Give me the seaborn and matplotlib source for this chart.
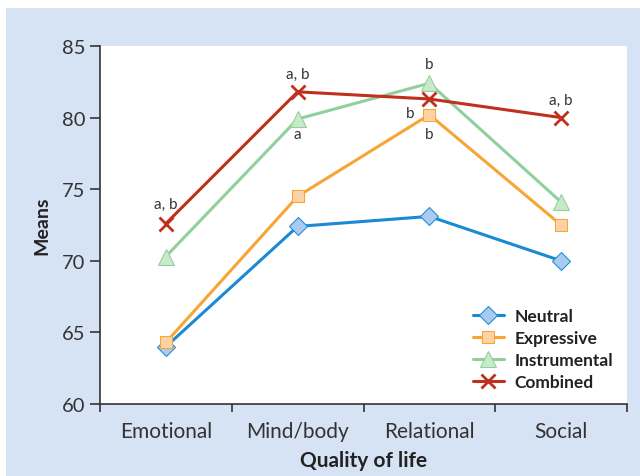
import pandas as pd
import matplotlib.pyplot as plt
import seaborn as sns
from matplotlib.patches import Rectangle
from matplotlib.ticker import FixedLocator

# Chart data
categories = ["Emotional", "Mind/body", "Relational", "Social"]
groups = ["Neutral", "Expressive", "Instrumental", "Combined"]
neutral = [64.0, 72.4, 73.1, 70.0]
expressive = [64.3, 74.5, 80.2, 72.5]
instrumental = [70.3, 79.9, 82.4, 74.1]
combined = [72.6, 81.8, 81.3, 80.0]

# significance letters: (category, value, text, dx, dy in points)
notes = [
    ("Emotional", 72.6, "a, b", 0, 14),
    ("Mind/body", 81.8, "a, b", 0, 13),
    ("Mind/body", 79.9, "a", 0, -11),
    ("Relational", 82.4, "b", 0, 14),
    ("Relational", 80.2, "b", -14, 1),
    ("Relational", 80.2, "b", 0, -14),
    ("Social", 80.0, "a, b", 0, 13),
]

df = pd.DataFrame({
    "Quality of life": categories * 4,
    "Means": neutral + expressive + instrumental + combined,
    "Group": [g for g in groups for _ in categories],
})

styles = {
    "Neutral": dict(color="#1a8ad4", marker="D", markerfacecolor="#a8cbef", ms=9),
    "Expressive": dict(color="#f7a535", marker="s", markerfacecolor="#fdd3a6", ms=9),
    "Instrumental": dict(color="#91d09c", marker="^", markerfacecolor="#c8e9ca", ms=11),
    "Combined": dict(color="#c0301f", marker="x", markerfacecolor="#c0301f", ms=10, mew=2),
}

sns.set_style("white")
plt.rcParams["font.family"] = ["Lato", "DejaVu Sans"]

fig = plt.figure(figsize=(6.4, 4.77), dpi=100, facecolor="white")
# light blue panel behind the chart
fig.patches.append(Rectangle((6 / 640, 0), 1, 1 - 9 / 477, transform=fig.transFigure,
                             facecolor="#d5e3f4", edgecolor="none", zorder=-10))
ax = fig.add_axes([100 / 640, 1 - 405 / 477, 527 / 640, 358 / 477])
ax.set_facecolor("white")

for g in groups:
    st = dict(styles[g])
    sns.lineplot(data=df[df["Group"] == g], x="Quality of life", y="Means", ax=ax,
                 color=st.pop("color"), marker=st.pop("marker"), lw=2.2,
                 markeredgecolor=styles[g]["color"], label=g, clip_on=False, **st)

for cat, val, txt, dx, dy in notes:
    ax.annotate(txt, (categories.index(cat), val), xytext=(dx, dy), textcoords="offset points",
                ha="center", va="center", fontsize=11, color="#333333")

ax.set_xlim(-0.5, 3.5)
ax.set_ylim(60, 85)
ax.set_yticks([60, 65, 70, 75, 80, 85])
ax.xaxis.set_minor_locator(FixedLocator([-0.5, 0.5, 1.5, 2.5, 3.5]))
ax.tick_params(axis="x", which="major", length=0, pad=12, labelsize=15, colors="#333333")
ax.tick_params(axis="x", which="minor", length=6, width=1.2, direction="out", bottom=True, color="#333333")
ax.tick_params(axis="y", length=7, width=1.2, direction="out", left=True, labelsize=14.5, colors="#333333")
for side in ["top", "right"]:
    ax.spines[side].set_visible(False)
for side in ["left", "bottom"]:
    ax.spines[side].set_color("#333333")
    ax.spines[side].set_linewidth(1.2)

ax.set_xlabel("Quality of life", fontsize=15, fontweight="bold", color="#222222", labelpad=7)
ax.set_ylabel("Means", fontsize=14, fontweight="bold", color="#222222", labelpad=8)

leg = ax.legend(loc="lower right", frameon=False, prop={"weight": "bold", "size": 12.5},
                handlelength=1.8, labelspacing=0.35, borderaxespad=0.4, handletextpad=0.6)
for t in leg.get_texts():
    t.set_color("#222222")

fig.savefig("out.png", dpi=100, facecolor=fig.get_facecolor())
